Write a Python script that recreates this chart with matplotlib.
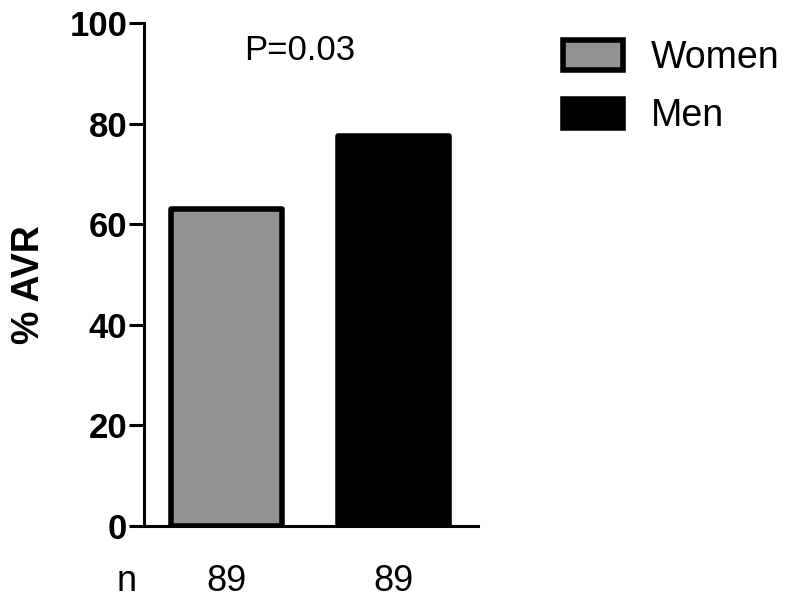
import numpy as np
import matplotlib
matplotlib.use("Agg")
import matplotlib.pyplot as plt

# data
groups = ["Women", "Men"]
avr_pct = [63, 77.5]
counts = [89, 89]
bar_colors = ["#939393", "#000000"]
y_ticks = [0, 20, 40, 60, 80, 100]

plt.rcParams['font.family'] = ['Liberation Sans', 'DejaVu Sans']

fig = plt.figure(figsize=(8, 6.04), dpi=100)
ax = fig.add_axes([144/800, 78/604, 334/800, 503/604])

x = np.arange(len(groups))
bars = ax.bar(x, avr_pct, width=0.67, color=bar_colors, edgecolor="black",
              linewidth=4, joinstyle="round", label=groups)

ax.set_xlim(-0.494, 1.506)
ax.set_ylim(0, 100)
ax.set_yticks(y_ticks)
ax.set_xticks([])
for lab in ax.get_yticklabels():
    lab.set_fontweight("bold")
ax.tick_params(axis="y", length=11, width=2.2, labelsize=25, pad=1)
ax.spines["top"].set_visible(False)
ax.spines["right"].set_visible(False)
ax.spines["left"].set_linewidth(2.2)
ax.spines["bottom"].set_linewidth(2.2)

fig.text(29/800, 1 - 285/604, "% AVR", rotation=90, fontsize=27,
         fontweight="bold", ha="center", va="center")

ax.text(0.44, 94.6, "P=0.03", fontsize=25, ha="center", va="center",
        transform=ax.transData)

# n row under the axis
ax.text(-0.6, -11, "n", fontsize=26, ha="center", va="center", clip_on=False)
for xi, c in zip(x, counts):
    ax.text(xi, -11, str(c), fontsize=26, ha="center", va="center", clip_on=False)

fig.legend(handles=bars, labels=groups, loc="upper left",
           bbox_to_anchor=(563/800, 1 - 40/604), frameon=False, fontsize=27,
           handlelength=1.6, handleheight=0.85, labelspacing=0.6,
           handletextpad=0.75, borderpad=0, borderaxespad=0)

fig.savefig("out.png", dpi=100)
